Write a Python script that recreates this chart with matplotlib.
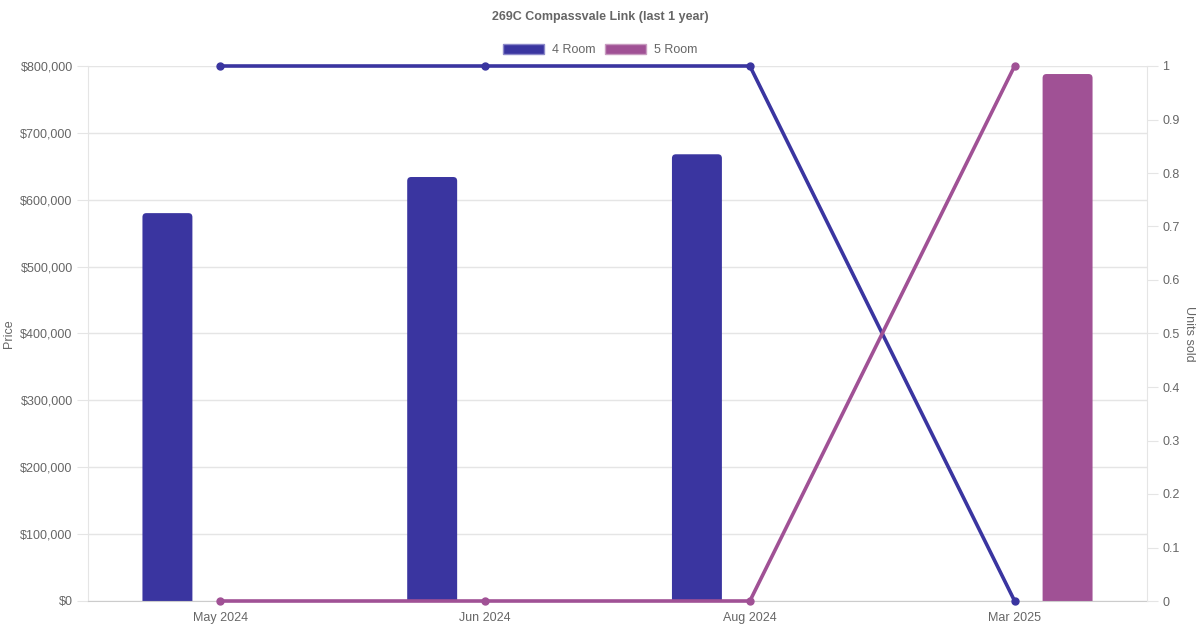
import matplotlib
matplotlib.use("Agg")
import matplotlib.pyplot as plt
import numpy as np
from matplotlib.patches import FancyBboxPatch, Patch
from matplotlib.ticker import FuncFormatter, MultipleLocator

plt.rcParams['font.family'] = ['Liberation Sans', 'DejaVu Sans']

months = ['May 2024', 'Jun 2024', 'Aug 2024', 'Mar 2025']
price_4room = [580000, 634000, 668000, None]
price_5room = [None, None, None, 788000]
units_4room = [1, 1, 1, 0]
units_5room = [0, 0, 0, 1]

c4 = '#3a35a0'
c5 = '#a05195'
grey = '#666666'
gridc = '#e5e5e5'

fig = plt.figure(figsize=(12, 6.3), dpi=100)
ax = fig.add_axes([88 / 1200, 29 / 630, 1059 / 1200, 535 / 630])
ax2 = ax.twinx()

x = np.arange(len(months))
bw = 50 / 265
off = 53 / 265
# data units per pixel, y over x, so the rounding looks round
aspect = (800000 / 535) * 265


def rounded_bars(xs, vals, color):
    for xi, v in zip(xs, vals):
        if v is None:
            continue
        # rounded top, bottom pushed below 0 so it gets clipped
        p = FancyBboxPatch((xi - bw / 2, -20000), bw, v + 20000,
                           boxstyle='round,pad=0,rounding_size=0.015',
                           mutation_aspect=aspect,
                           fc=color, ec='none', zorder=2)
        ax.add_patch(p)


rounded_bars(x - off, price_4room, c4)
rounded_bars(x + off, price_5room, c5)

ax2.plot(x, units_4room, color=c4, lw=2.6, marker='o', ms=5, zorder=3, clip_on=False)
ax2.plot(x, units_5room, color=c5, lw=2.6, marker='o', ms=5, zorder=3, clip_on=False)

ax.set_xlim(-0.5, 3.5)
ax.set_ylim(0, 800000)
ax2.set_ylim(0, 1)
ax.set_xticks(x)
ax.set_xticklabels(months)
ax.yaxis.set_major_locator(MultipleLocator(100000))
ax.yaxis.set_major_formatter(FuncFormatter(lambda v, p: '${:,.0f}'.format(v)))
ax2.yaxis.set_major_locator(MultipleLocator(0.1))
ax2.yaxis.set_major_formatter(FuncFormatter(lambda v, p: '{:g}'.format(round(v, 1))))

ax.grid(axis='y', color=gridc, lw=1)
ax.set_axisbelow(True)
for a in (ax, ax2):
    for s in a.spines.values():
        s.set_visible(False)
ax.spines['left'].set_visible(True)
ax.spines['left'].set_color(gridc)
ax.spines['bottom'].set_visible(True)
ax.spines['bottom'].set_color('#cccccc')
ax2.spines['right'].set_visible(True)
ax2.spines['right'].set_color(gridc)

ax.tick_params(axis='y', colors=grey, labelsize=9, length=8, color=gridc, pad=3)
ax.tick_params(axis='x', colors=grey, labelsize=9, length=0, pad=8)
ax2.tick_params(axis='y', colors=grey, labelsize=9, length=8, color=gridc, pad=3)
ax2.set_zorder(ax.get_zorder() + 1)
ax2.patch.set_visible(False)

ax.set_ylabel('Price', color=grey, fontsize=9, labelpad=4)
ax2.set_ylabel('Units sold', color=grey, fontsize=9, rotation=270, labelpad=11)

fig.text(0.5, 1 - 17 / 630, '269C Compassvale Link (last 1 year)', ha='center', va='center',
         fontsize=9, fontweight='bold', color=grey)

handles = [Patch(fc=c4, ec='#8c89c9', lw=1), Patch(fc=c5, ec='#c89cc0', lw=1)]
fig.legend(handles, ['4 Room', '5 Room'], loc='center', bbox_to_anchor=(0.5, 1 - 50 / 630),
           ncol=2, frameon=False, fontsize=9, labelcolor=grey, handlelength=3.3,
           handleheight=0.9, handletextpad=0.6, columnspacing=0.8)

fig.savefig('out.png', dpi=100, facecolor='white')
